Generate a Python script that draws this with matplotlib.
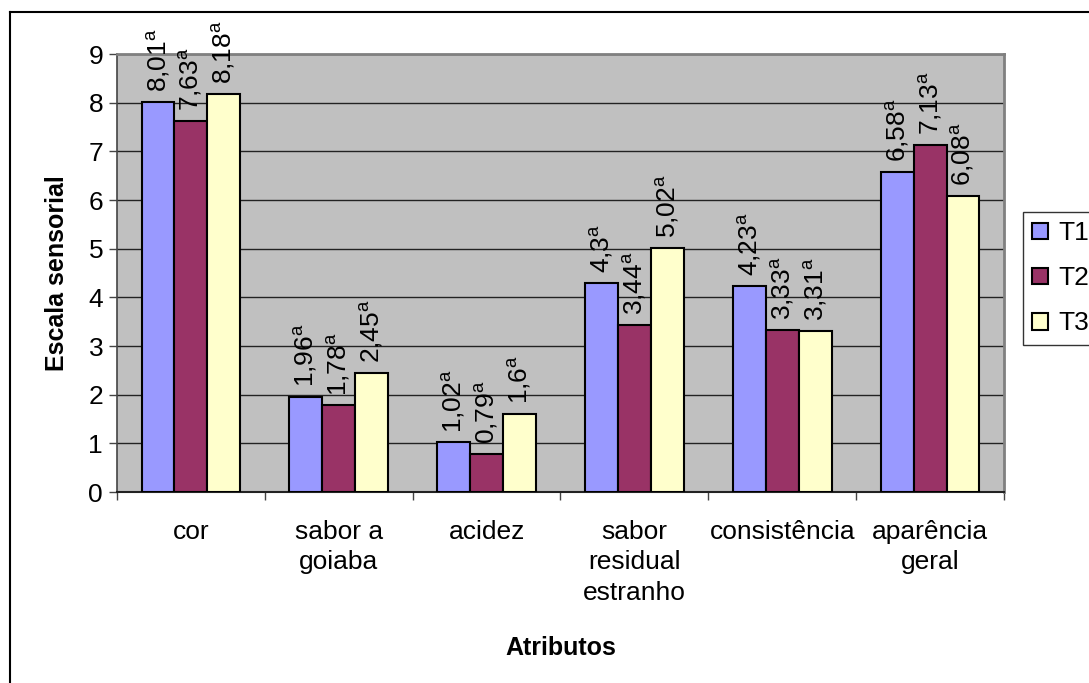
import numpy as np
import matplotlib
matplotlib.use('Agg')
import matplotlib.pyplot as plt
from matplotlib.lines import Line2D

plt.rcParams['font.family'] = ['Liberation Sans', 'DejaVu Sans']
plt.rcParams['mathtext.fontset'] = 'custom'
plt.rcParams['mathtext.rm'] = 'Liberation Sans'
plt.rcParams['mathtext.it'] = 'Liberation Sans:italic'

# data
categorias = ['cor', 'sabor a\ngoiaba', 'acidez', 'sabor\nresidual\nestranho',
              'consistência', 'aparência\ngeral']
t1 = [8.01, 1.96, 1.02, 4.3, 4.23, 6.58]
t2 = [7.63, 1.78, 0.79, 3.44, 3.33, 7.13]
t3 = [8.18, 2.45, 1.6, 5.02, 3.31, 6.08]
series = ['T1', 'T2', 'T3']
cores = ['#9999FF', '#993366', '#FFFFCC']

fig = plt.figure(figsize=(10.89, 6.83), dpi=100)
ax = fig.add_axes([117 / 1089, 1 - 492 / 683, (1004 - 117) / 1089, (492 - 54) / 683])
ax.set_facecolor('#C0C0C0')

x = np.arange(len(categorias))
w = 1 / 4.5
for i, (vals, cor) in enumerate(zip([t1, t2, t3], cores)):
    pos = x + (i - 1) * w
    ax.bar(pos, vals, width=w, color=cor, edgecolor='black', linewidth=1.5,
           label=series[i], zorder=3)
    for xb, v in zip(pos, vals):
        txt = f"{v:g}".replace('.', ',') + r"$^{\mathrm{a}}$"
        ax.annotate(txt, (xb, v), xytext=(0, 7), textcoords='offset points',
                    rotation=90, ha='center', va='bottom', fontsize=19)

ax.set_xlim(-0.5, len(categorias) - 0.5)
ax.set_ylim(0, 9)
ax.set_yticks(range(10))
ax.yaxis.grid(True, color='#222222', linewidth=1, zorder=1)
ax.set_axisbelow(True)

ax.set_xticks(x)
ax.set_xticklabels(categorias, fontsize=19, linespacing=1.35)
ax.set_xticks(np.arange(-0.5, len(categorias)), minor=True)
ax.tick_params(axis='x', which='major', length=0, pad=20)
ax.tick_params(axis='x', which='minor', length=6, width=1, color='#444444')
ax.tick_params(axis='y', length=6, width=1, color='#444444', labelsize=19, pad=4)

ax.spines['top'].set_color('#808080')
ax.spines['right'].set_color('#808080')
ax.spines['top'].set_linewidth(2)
ax.spines['right'].set_linewidth(2)
ax.spines['left'].set_color('#444444')
ax.spines['bottom'].set_color('#222222')
ax.spines['left'].set_linewidth(1.2)
ax.spines['bottom'].set_linewidth(1.5)

ax.set_ylabel('Escala sensorial', fontsize=18, fontweight='bold', labelpad=14)
ax.set_xlabel('Atributos', fontsize=18, fontweight='bold', labelpad=22)

leg = fig.legend(loc='upper left', bbox_to_anchor=(1023 / 1089, 1 - 212 / 683),
                 fontsize=19, frameon=True, fancybox=False, edgecolor='black',
                 handlelength=0.6, handleheight=0.6, handletextpad=0.4,
                 labelspacing=0.8, borderpad=0.35, borderaxespad=0)
leg.get_frame().set_linewidth(1)

# moldura externa
fig.add_artist(Line2D([10 / 1089, 10 / 1089], [0, 1 - 12 / 683], color='black', lw=1.5))
fig.add_artist(Line2D([10 / 1089, 1], [1 - 12 / 683, 1 - 12 / 683], color='black', lw=1.5))

fig.savefig('out.png', dpi=100)
